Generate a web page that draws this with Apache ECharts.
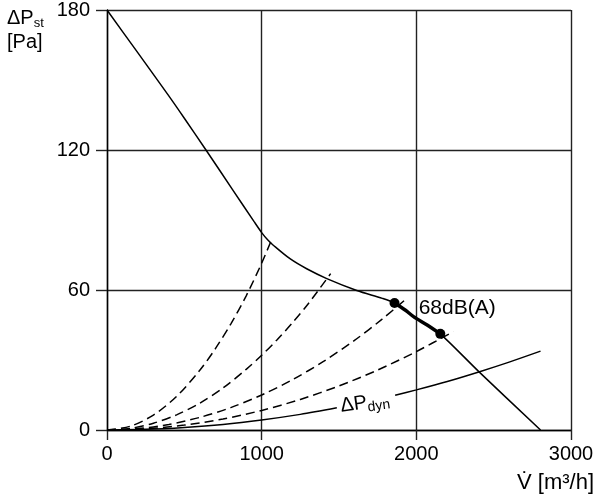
<!DOCTYPE html>
<html>
<head>
<meta charset="utf-8">
<style>
  html, body { margin: 0; padding: 0; background: #fff; }
  #main { width: 600px; height: 500px; }
</style>
<script src="https://cdn.jsdelivr.net/npm/echarts@6/dist/echarts.min.js"></script>
</head>
<body>
<div id="main"></div>
<script>
// 风机特性曲线 (static pressure vs. volume flow)
var xTicks = [0, 1000, 2000, 3000];
var yTicks = [0, 60, 120, 180];

// 风机曲线
var fanCurve = [
  [0, 180], [200, 161.6], [395, 143.6], [500, 133.6], [640, 120],
  [816, 102.6], [950, 89.4], [1000, 84.6], [1040, 81.4], [1075, 79.2], [1183, 73.4],
  [1291, 69.1], [1421, 64.9], [1615, 59.8], [1780, 56.4], [1859, 54.4],
  [1930, 51.3], [1982, 48.6], [2070, 45], [2155, 41.2], [2409, 24.7], [2803, 0]
];
// 68dB(A) 工作区段
var workRange = [[1859, 54.4], [1930, 51.3], [1982, 48.6], [2070, 45], [2155, 41.2]];
var workDots = [[1859, 54.4], [2155, 41.2]];

// 系统阻力曲线 (虚线)
var system1 = [[0, 0], [150, 1.6], [300, 6.4], [450, 14.4], [600, 25.6], [700, 34.8],
  [800, 45.4], [900, 57.5], [1000, 71.5], [1070, 82.5]];
var system2 = [[0, 0], [150, 0.7], [300, 2.9], [450, 6.5], [600, 11.5], [750, 18],
  [900, 26], [1000, 32], [1100, 38.7], [1200, 46], [1300, 54], [1446, 67]];
var system3 = [[0, 0], [200, 0.6], [400, 2.4], [600, 5.4], [800, 9.6], [1000, 15],
  [1200, 21.6], [1400, 29.4], [1600, 38.4], [1777, 47.4], [1945, 56.8]];
var system4 = [[0, 0], [250, 0.5], [500, 2.1], [750, 4.7], [1000, 8.4], [1250, 13.1],
  [1500, 18.9], [1750, 25.7], [2000, 33.6], [2240, 42.2]];

// 动压曲线 (label gap in the middle)
var dynCurve = [
  [0, 0], [250, 0.27], [500, 1.1], [750, 2.4], [1000, 4.3], [1250, 6.7], [1486, 9.5], null,
  [1863, 14.9], [2000, 17.2], [2200, 20.8], [2409, 25], [2600, 29.1], [2803, 33.8]
];

var labelDb = [[2015, 52.3]];
var labelDyn = [[1668, 11.6]];

var myChart = echarts.init(document.getElementById("main"));

var lineColor = "#000";
var gridColor = "#222";
var font = "Liberation Sans, Arial, sans-serif";

function curve(data, width, dash) {
  return {
    type: "line",
    data: data,
    smooth: 0.3,
    connectNulls: false,
    showSymbol: false,
    silent: true,
    lineStyle: { color: lineColor, width: width, type: dash || "solid" },
  };
}

var option = {
  animation: false,
  backgroundColor: "#fff",
  title: [
    {
      left: 2,
      top: 1,
      text: "{a|ΔP}{b|st}\n{c|[Pa]}",
      textStyle: {
        fontWeight: "normal",
        rich: {
          a: { fontFamily: font, fontSize: 20, fontWeight: "normal", color: "#000", lineHeight: 24 },
          b: { fontFamily: font, fontSize: 13, fontWeight: "normal", color: "#000", lineHeight: 13, verticalAlign: "bottom" },
          c: { fontFamily: font, fontSize: 20, fontWeight: "normal", color: "#000", lineHeight: 24 },
        },
      },
    },
    {
      right: 1,
      bottom: 1,
      text: "V\u0307 [m³/h]",
      textStyle: { fontFamily: font, fontSize: 22, fontWeight: "normal", color: "#000" },
    },
  ],
  grid: { left: 107, top: 10, right: 29, bottom: 70 },
  xAxis: {
    type: "value",
    min: xTicks[0],
    max: xTicks[xTicks.length - 1],
    interval: 1000,
    axisLine: { show: true, onZero: false, lineStyle: { color: lineColor, width: 1.4 } },
    axisTick: { show: true, inside: false, length: 10, lineStyle: { color: gridColor, width: 1.4 } },
    axisLabel: {
      margin: 14,
      fontFamily: font,
      fontSize: 20,
      color: "#000",
      formatter: function (v) { return String(v); },
    },
    splitLine: { show: true, lineStyle: { color: gridColor, width: 1.4 } },
  },
  yAxis: {
    type: "value",
    min: yTicks[0],
    max: yTicks[yTicks.length - 1],
    interval: 60,
    axisLine: { show: true, onZero: false, lineStyle: { color: lineColor, width: 1.4 } },
    axisTick: { show: true, inside: false, length: 11, lineStyle: { color: gridColor, width: 1.4 } },
    axisLabel: {
      margin: 17,
      fontFamily: font,
      fontSize: 20,
      color: "#000",
      formatter: function (v) { return String(v); },
    },
    splitLine: { show: true, lineStyle: { color: gridColor, width: 1.4 } },
  },
  series: [
    curve(system1, 1.5, [9, 5]),
    curve(system2, 1.5, [9, 5]),
    curve(system3, 1.5, [9, 5]),
    curve(system4, 1.5, [9, 5]),
    curve(dynCurve, 1.5),
    curve(fanCurve, 1.5),
    curve(workRange, 3.5),
    {
      type: "scatter",
      data: workDots,
      symbolSize: 10,
      silent: true,
      itemStyle: { color: lineColor, opacity: 1 },
    },
    {
      type: "scatter",
      data: labelDb,
      symbolSize: 0,
      silent: true,
      itemStyle: { opacity: 1 },
      label: {
        show: true,
        position: "right",
        distance: 0,
        formatter: "68dB(A)",
        fontFamily: font,
        fontSize: 21,
        color: "#000",
      },
    },
    {
      type: "scatter",
      data: labelDyn,
      symbolSize: 0,
      silent: true,
      itemStyle: { opacity: 1 },
      label: {
        show: true,
        position: "inside",
        rotate: 8,
        formatter: "{a|ΔP}{b|dyn}",
        rich: {
          a: { fontFamily: font, fontSize: 20, color: "#000", lineHeight: 24 },
          b: { fontFamily: font, fontSize: 14, color: "#000", lineHeight: 13, verticalAlign: "bottom" },
        },
      },
    },
  ],
};

myChart.setOption(option);
window.addEventListener("resize", function () {
  myChart.resize();
});
</script>
</body>
</html>
